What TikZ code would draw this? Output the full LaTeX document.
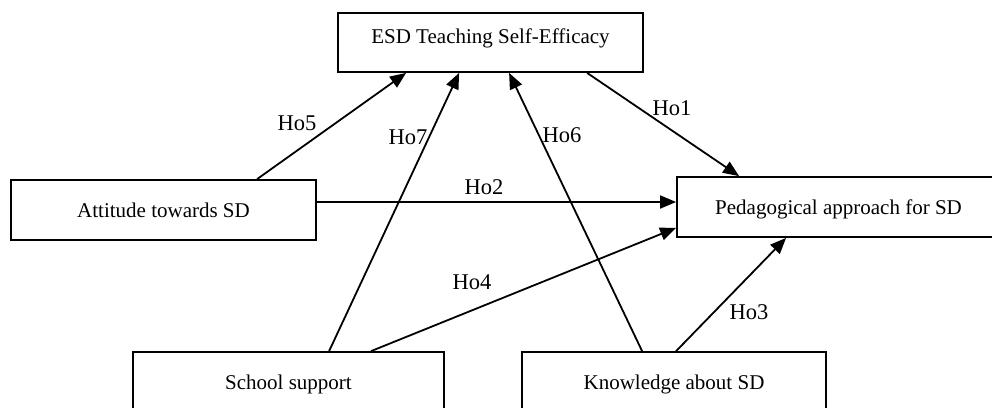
\documentclass[tikz,border=0pt]{standalone}
\usepackage{fontspec}
\setmainfont{Liberation Serif}
\usetikzlibrary{arrows.meta}
\begin{document}
\begin{tikzpicture}[x=1pt,y=-1pt,
  box/.style={draw,line width=1.8pt,inner sep=0pt,font=\fontsize{21}{24}\selectfont},
  conn/.style={line width=1.8pt,-{Triangle[length=16pt,width=13pt]}},
  lbl/.style={inner sep=0pt,font=\fontsize{22.5}{26}\selectfont}]
\useasboundingbox (0,0) rectangle (992,407);
\clip (0,0) rectangle (992,407);
\fill[white] (0,0) rectangle (992,407);
\node[box,minimum width=305pt,minimum height=59pt,text height=15pt,text depth=14pt] (esd) at (490.5,42.5) {ESD Teaching Self-Efficacy};
\node[box,minimum width=305pt,minimum height=60pt] (att) at (163.5,210) {Attitude towards SD};
\node[box,minimum width=323pt,minimum height=60pt,text depth=0pt] (ped) at (838.5,207) {Pedagogical approach for SD};
\node[box,minimum width=311pt,minimum height=64pt] (sch) at (288.5,384) {School support};
\node[box,minimum width=304pt,minimum height=64pt] (kno) at (674,384) {Knowledge about SD};
% connectors
\draw[conn] ([xshift=247pt]att.north west) -- ([xshift=69pt]esd.south west);
\draw[conn] ([xshift=197pt]sch.north west) -- ([xshift=122pt]esd.south west);
\draw[conn] ([xshift=121pt]kno.north west) -- ([xshift=172pt]esd.south west);
\draw[conn] ([xshift=250pt]esd.south west) -- ([xshift=63pt]ped.north west);
\draw[conn] ([yshift=8pt]att.east) -- ([yshift=8pt]att.east -| ped.west);
\draw[conn] ([xshift=239pt]sch.north west) -- ([yshift=10pt]ped.south west);
\draw[conn] ([xshift=155pt]kno.north west) -- ([xshift=110pt]ped.south west);
% labels
\node[lbl] (l5) at (297,123) {Ho5};
\node[lbl] (l7) at (408,137) {Ho7};
\node[lbl] (l6) at (562,135) {Ho6};
\node[lbl] (l1) at (672,108) {Ho1};
\node[lbl] (l2) at (484,187) {Ho2};
\node[lbl] (l4) at (472,282) {Ho4};
\node[lbl] (l3) at (749,312) {Ho3};
\end{tikzpicture}
\end{document}
